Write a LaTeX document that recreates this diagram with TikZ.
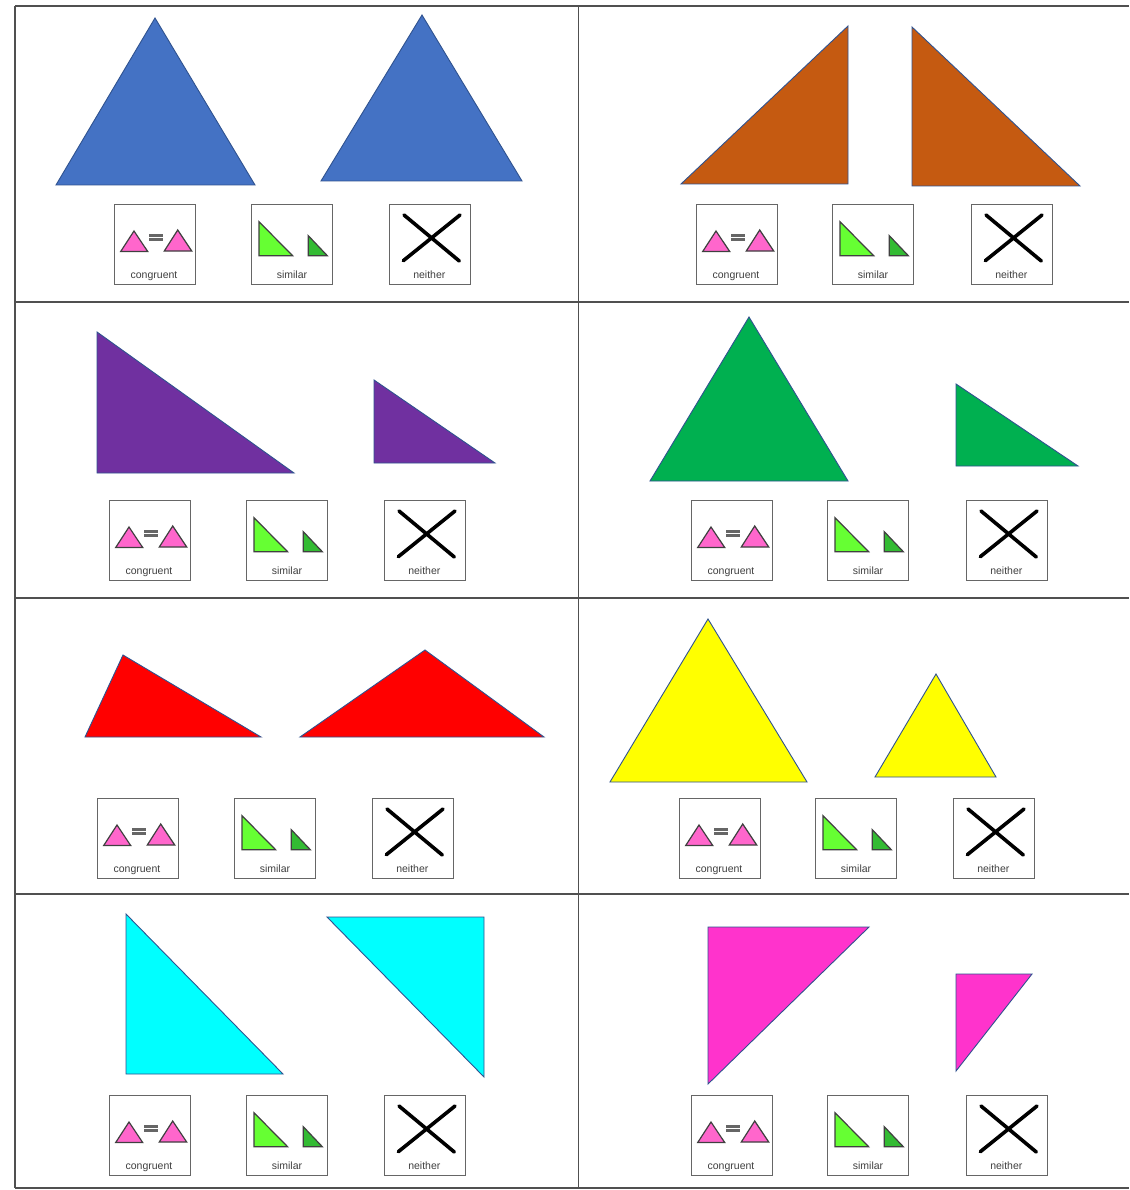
\documentclass[tikz,border=0pt]{standalone}
\usepackage{fontspec}
\setmainfont{Liberation Sans}
\definecolor{shapeblue}{HTML}{4472C4}
\definecolor{shapebrown}{HTML}{C55A11}
\definecolor{shapepurple}{HTML}{7030A0}
\definecolor{shapegreen}{HTML}{00B050}
\definecolor{shapered}{HTML}{FF0000}
\definecolor{shapeyellow}{HTML}{FFFF00}
\definecolor{shapecyan}{HTML}{00FFFF}
\definecolor{shapepink}{HTML}{FF33CC}
\definecolor{iconpink}{HTML}{FF66CC}
\definecolor{iconlime}{HTML}{66FF33}
\definecolor{icongreen}{HTML}{33BB33}
\definecolor{gridgrey}{HTML}{505050}
\definecolor{edgeblue}{HTML}{2F528F}

\begin{document}
\begin{tikzpicture}[
  x=1pt, y=-1pt,
  cellline/.style={draw=gridgrey, line width=1.8pt},
  tri/.style={draw=edgeblue, line width=0.9pt, line join=miter},
  choicebox/.style={draw=black!60, line width=1.2pt, fill=white, rectangle, anchor=north west, minimum width=81pt, minimum height=80pt, inner sep=0pt},
  choicetext/.style={font=\fontsize{10.5}{11}\selectfont, text=black!75, inner sep=0pt, anchor=base},
  icontri/.style={draw=black!75, line width=1.2pt, line join=miter},
  crossline/.style={draw=black, line width=3.6pt, line cap=round}
]
  \useasboundingbox (0,0) rectangle (1129,1190);
  \fill[white] (0,0) rectangle (1129,1190);

  % grid
  \coordinate (gridtl) at (15,6);
  \coordinate (gridtm) at (578.5,6);
  \coordinate (gridtr) at (1129,6);
  \coordinate (gridbl) at (15,1188);
  \coordinate (gridbm) at (578.5,1188);
  \coordinate (gridbr) at (1129,1188);
  \draw[cellline] (gridtl) -- (gridtr);
  \draw[cellline] (gridbl) -- (gridbr);
  \draw[cellline] (gridtl) -- (gridbl);
  \draw[cellline] (gridtm) -- (gridbm);
  \foreach \rowy in {302,598,894} {
    \draw[cellline] (15,\rowy) -- (1129,\rowy);
  }

  % triangles
  \fill[tri, fill=shapeblue] (155,18) -- (56,185) -- (255,185) -- cycle;
  \fill[tri, fill=shapeblue] (422,15) -- (321,181) -- (522,181) -- cycle;
  \fill[tri, fill=shapebrown] (848,26) -- (681,184) -- (848,184) -- cycle;
  \fill[tri, fill=shapebrown] (912,27) -- (912,186) -- (1080,186) -- cycle;
  \fill[tri, fill=shapepurple] (97,332) -- (97,473) -- (294,473) -- cycle;
  \fill[tri, fill=shapepurple] (374,380) -- (374,463) -- (495,463) -- cycle;
  \fill[tri, fill=shapegreen] (749,317) -- (650,481) -- (848,481) -- cycle;
  \fill[tri, fill=shapegreen] (956,384) -- (956,466) -- (1078,466) -- cycle;
  \fill[tri, fill=shapered] (123,655) -- (85,737) -- (261,737) -- cycle;
  \fill[tri, fill=shapered] (425,650) -- (300,737) -- (544,737) -- cycle;
  \fill[tri, fill=shapeyellow] (708,619) -- (610,782) -- (807,782) -- cycle;
  \fill[tri, fill=shapeyellow] (936,674) -- (875,777) -- (996,777) -- cycle;
  \fill[tri, fill=shapecyan] (126,914) -- (126,1074) -- (283,1074) -- cycle;
  \fill[tri, fill=shapecyan] (327,917) -- (484,917) -- (484,1077) -- cycle;
  \fill[tri, fill=shapepink] (708,927) -- (869,927) -- (708,1084) -- cycle;
  \fill[tri, fill=shapepink] (956,974) -- (1032,974) -- (956,1071) -- cycle;

  % answer boxes
  \foreach \cell/\bxa/\bxb/\bxc/\by in {1/114/251/389/204, 2/696/832/971/204, 3/109/246/384/500, 4/691/827/966/500, 5/97/234/372/798, 6/679/815/953/798, 7/109/246/384/1095, 8/691/827/966/1095} {
    \begin{scope}[shift={(\bxa,\by)}]
      \node[choicebox] (cong\cell) at (0,0) {};
      \node[choicetext] (congtext\cell) at (40,74) {congruent};
      \fill[icontri, fill=iconpink] (20,27) -- (6.7,47.5) -- (33.7,47.5) -- cycle;
      \fill[icontri, fill=iconpink] (63.7,26) -- (50.3,47) -- (77.7,47) -- cycle;
      \draw[black!60, line width=3pt] (35.3,31.5) -- (49.3,31.5);
      \draw[black!60, line width=3pt] (35.3,35.5) -- (49.3,35.5);
    \end{scope}
    \begin{scope}[shift={(\bxb,\by)}]
      \node[choicebox] (sim\cell) at (0,0) {};
      \node[choicetext] (simtext\cell) at (41,74) {similar};
      \fill[icontri, fill=iconlime] (8,17.7) -- (8,51.7) -- (41.6,51.7) -- cycle;
      \fill[icontri, fill=icongreen] (57.3,31.7) -- (57.3,51.7) -- (76.3,51.7) -- cycle;
    \end{scope}
    \begin{scope}[shift={(\bxc,\by)}]
      \node[choicebox] (nei\cell) at (0,0) {};
      \node[choicetext] (neitext\cell) at (40.3,74) {neither};
      \draw[crossline] (15,11) -- (70.3,57);
      \draw[crossline] (71,11) -- (14.3,56.7);
    \end{scope}
  }
\end{tikzpicture}
\end{document}
